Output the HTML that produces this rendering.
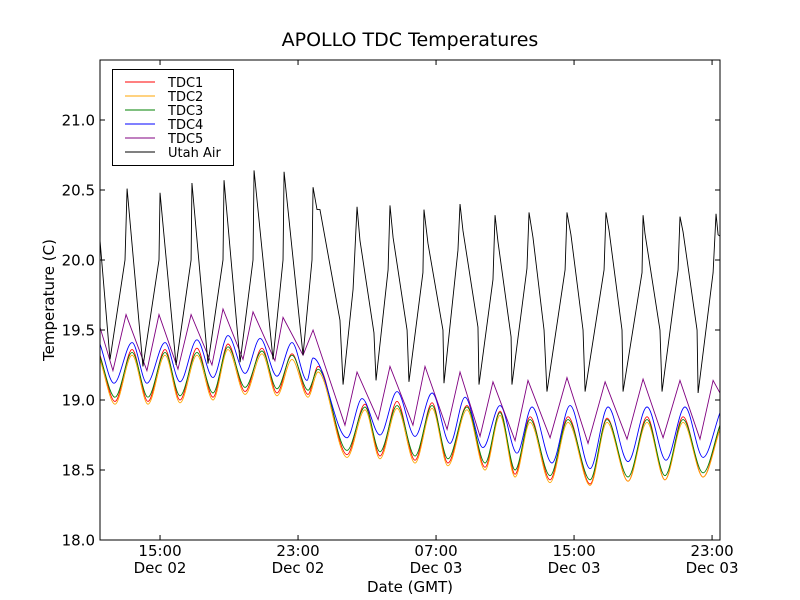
<!DOCTYPE html>
<html><head><meta charset="utf-8"><style>
body{margin:0;background:#fff;}
svg{display:block;font-family:"DejaVu Sans","Liberation Sans",sans-serif;}
</style></head><body>
<svg id="chart" width="800" height="600" viewBox="0 0 800 600" xmlns="http://www.w3.org/2000/svg">
<rect width="800" height="600" fill="#fff"/>
<text x="410" y="46" font-size="19" text-anchor="middle">APOLLO TDC Temperatures</text>
<text x="410" y="592" font-size="15" text-anchor="middle">Date (GMT)</text>
<text transform="translate(54,300) rotate(-90)" font-size="15" text-anchor="middle">Temperature (C)</text>
<g id="plot"></g>
<g id="axes"></g>
<g id="legend"></g>
</svg>
<script>
const yTicks = [18.0, 18.5, 19.0, 19.5, 20.0, 20.5, 21.0];
const yTickLabels = ["18.0","18.5","19.0","19.5","20.0","20.5","21.0"];
const xTicks = [15, 23, 31, 39, 47];
const xTickTimes = ["15:00","23:00","07:00","15:00","23:00"];
const xTickDates = ["Dec 02","Dec 02","Dec 03","Dec 03","Dec 03"];
const seriesNames = ["TDC1","TDC2","TDC3","TDC4","TDC5","Utah Air"];

// hours since Dec 02 00:00
const tdcTimes = [11.52,12.39,13.38,14.30,15.29,16.16,17.14,18.07,18.94,19.93,20.91,21.78,22.65,23.58,24.16,25.84,26.88,27.75,28.74,29.78,30.77,31.69,32.79,33.84,34.71,35.58,36.45,37.61,38.65,39.93,40.91,42.13,43.23,44.27,45.32,46.48,47.46];
const tdc1 = [19.32,18.99,19.36,18.99,19.36,19.00,19.37,19.02,19.40,19.06,19.37,19.05,19.33,19.04,19.24,18.61,18.97,18.60,18.99,18.57,18.98,18.55,18.96,18.52,18.92,18.47,18.88,18.43,18.88,18.40,18.87,18.42,18.88,18.43,18.88,18.45,18.82];
const tdc2 = [19.29,18.97,19.32,18.97,19.32,18.98,19.32,19.00,19.36,19.04,19.33,19.03,19.29,19.02,19.20,18.59,18.93,18.58,18.94,18.55,18.94,18.53,18.93,18.50,18.89,18.45,18.84,18.41,18.84,18.39,18.84,18.42,18.84,18.43,18.84,18.45,18.79];
const tdc3 = [19.31,19.02,19.34,19.02,19.34,19.03,19.34,19.05,19.38,19.09,19.35,19.08,19.32,19.07,19.22,18.64,18.95,18.63,18.96,18.60,18.96,18.58,18.95,18.55,18.91,18.50,18.86,18.46,18.86,18.43,18.86,18.45,18.86,18.46,18.86,18.48,18.82];
const tdc4Times = [11.52,12.33,13.38,14.24,15.29,16.16,17.14,18.07,18.94,19.93,20.80,21.78,22.65,23.52,23.87,25.84,26.71,27.75,28.74,29.78,30.77,31.81,32.68,33.72,34.71,35.69,36.56,37.72,38.77,39.93,40.97,42.13,43.23,44.33,45.43,46.48,47.46];
const tdc4 = [19.40,19.12,19.41,19.12,19.41,19.13,19.43,19.16,19.46,19.19,19.44,19.17,19.41,19.14,19.30,18.73,19.01,18.75,19.06,18.74,19.05,18.69,19.02,18.66,18.96,18.62,18.95,18.55,18.96,18.51,18.95,18.56,18.95,18.57,18.95,18.59,18.91];
const tdc5Times = [11.52,12.27,13.03,14.24,14.94,16.04,16.80,18.01,18.65,19.81,20.39,21.66,22.13,23.29,23.87,25.72,26.42,27.64,28.33,29.66,30.36,31.64,32.39,33.55,34.30,35.58,36.33,37.61,38.59,39.81,40.80,42.07,43.00,44.16,45.14,46.30,47.06,47.46];
const tdc5 = [19.52,19.21,19.61,19.21,19.61,19.22,19.61,19.25,19.65,19.29,19.63,19.28,19.59,19.32,19.50,18.82,19.20,18.86,19.24,18.82,19.24,18.79,19.20,18.74,19.13,18.71,19.14,18.73,19.16,18.69,19.13,18.72,19.15,18.73,19.14,18.72,19.14,19.05];
const airTimes = [11.52,12.10,12.97,13.09,14.01,14.94,15.00,15.93,16.80,16.85,17.78,18.65,18.71,19.64,20.39,20.45,21.55,22.13,22.19,23.29,23.81,23.87,24.10,24.27,25.43,25.61,26.19,26.42,26.59,27.40,27.52,28.22,28.33,28.51,29.32,29.43,30.24,30.30,30.53,31.40,31.46,32.27,32.39,32.56,33.43,33.49,34.30,34.42,34.59,35.35,35.40,36.27,36.39,36.62,37.26,37.43,38.48,38.59,38.82,39.52,39.64,40.74,40.85,41.03,41.78,41.84,42.94,43.00,43.11,43.98,44.10,45.03,45.14,45.32,46.13,46.19,47.06,47.23,47.35,47.46];
const utahAir = [20.14,19.29,20.0,20.51,19.24,20.0,20.48,19.25,20.0,20.55,19.26,20.0,20.57,19.27,20.0,20.64,19.29,20.0,20.63,19.32,20.0,20.52,20.36,20.36,19.57,19.11,19.79,20.38,20.14,19.48,19.14,19.93,20.39,20.16,19.5,19.13,19.91,20.36,20.12,19.5,19.12,20.07,20.4,20.21,19.52,19.11,19.86,20.32,20.13,19.45,19.11,19.94,20.34,20.16,19.5,19.06,19.93,20.34,20.18,19.5,19.06,19.93,20.34,20.21,19.5,19.06,19.91,20.32,20.19,19.5,19.06,19.93,20.31,20.2,19.5,19.05,19.91,20.33,20.18,20.17];

const L=100,R=720,T=60,B=540;
const xMin=11.52,xMax=47.46,yMin=18.0,yMax=21.4286;
function xs(t){return L+(t-xMin)/(xMax-xMin)*(R-L);}
function ys(v){return B-(v-yMin)/(yMax-yMin)*(B-T);}
const NS="http://www.w3.org/2000/svg";
function mk(tag,attrs,parent){const e=document.createElementNS(NS,tag);for(const k in attrs)e.setAttribute(k,attrs[k]);parent.appendChild(e);return e;}

function linearPath(ts,vs){return ts.map((t,i)=>(i?'L':'M')+xs(t).toFixed(2)+','+ys(vs[i]).toFixed(2)).join('');}
function monoPath(ts,vs){
  const x=ts.map(xs),y=vs.map(ys),n=x.length;
  const d=[],m=new Array(n);
  for(let i=0;i<n-1;i++)d.push((y[i+1]-y[i])/(x[i+1]-x[i]));
  m[0]=d[0];m[n-1]=d[n-2];
  for(let i=1;i<n-1;i++){ if(d[i-1]*d[i]<=0)m[i]=0; else m[i]=2/(1/d[i-1]+1/d[i]); }
  let p='M'+x[0].toFixed(2)+','+y[0].toFixed(2);
  for(let i=0;i<n-1;i++){const h=(x[i+1]-x[i])/3;
    p+='C'+(x[i]+h).toFixed(2)+','+(y[i]+m[i]*h).toFixed(2)+' '+(x[i+1]-h).toFixed(2)+','+(y[i+1]-m[i+1]*h).toFixed(2)+' '+x[i+1].toFixed(2)+','+y[i+1].toFixed(2);}
  return p;
}
const plot=document.getElementById('plot');
const cp=mk('clipPath',{id:'clip'},plot);
mk('rect',{x:L,y:T,width:R-L,height:B-T},cp);
const series=[
 {ts:tdcTimes,vs:tdc1,c:'#ff0000',smooth:true,n:'tdc1-line'},
 {ts:tdcTimes,vs:tdc2,c:'#ffa500',smooth:true,n:'tdc2-line'},
 {ts:tdcTimes,vs:tdc3,c:'#008000',smooth:true,n:'tdc3-line'},
 {ts:tdc4Times,vs:tdc4,c:'#0000ff',smooth:true,n:'tdc4-line'},
 {ts:tdc5Times,vs:tdc5,c:'#800080',smooth:false,n:'tdc5-line'},
 {ts:airTimes,vs:utahAir,c:'#000000',smooth:false,n:'utah-air-line'}
];
series.forEach(s=>{
  const p=mk('path',{d:s.smooth?monoPath(s.ts,s.vs):linearPath(s.ts,s.vs),fill:'none',stroke:s.c,'stroke-width':0.9,'clip-path':'url(#clip)'},plot);
  
  
});

const axes=document.getElementById('axes');
const frame=mk('rect',{x:L,y:T,width:R-L,height:B-T,fill:'none',stroke:'#000','stroke-width':1},axes);


yTicks.forEach((v,i)=>{
  const y=ys(v);
  mk('line',{x1:L,x2:L+5,y1:y,y2:y,stroke:'#000'},axes);
  mk('line',{x1:R,x2:R-5,y1:y,y2:y,stroke:'#000'},axes);
  const t=mk('text',{x:L-5,y:y+5.5,'font-size':15,'text-anchor':'end'},axes);
  t.textContent=yTickLabels[i];
  
  
});
xTicks.forEach((h,i)=>{
  const x=xs(h);
  mk('line',{x1:x,x2:x,y1:B,y2:B-5,stroke:'#000'},axes);
  mk('line',{x1:x,x2:x,y1:T,y2:T+5,stroke:'#000'},axes);
  const t=mk('text',{x:x,y:B+16,'font-size':15,'text-anchor':'middle'},axes);
  t.textContent=xTickTimes[i];
  
  
  const t2=mk('text',{x:x,y:B+33,'font-size':15,'text-anchor':'middle'},axes);
  t2.textContent=xTickDates[i];
  
  
});

const leg=document.getElementById('legend');
const box=mk('rect',{x:112.5,y:69.5,width:121,height:96,fill:'#fff',stroke:'#000','stroke-width':1},leg);


seriesNames.forEach((nm,i)=>{
  const y=82+i*14;
  const g=mk('g',{},leg);
  
  
  mk('line',{x1:125,x2:155,y1:y,y2:y,stroke:series[i].c,'stroke-width':0.9},g);
  const t=mk('text',{x:168,y:y+5,'font-size':13},g);
  t.textContent=nm;
});
</script>
</body></html>
